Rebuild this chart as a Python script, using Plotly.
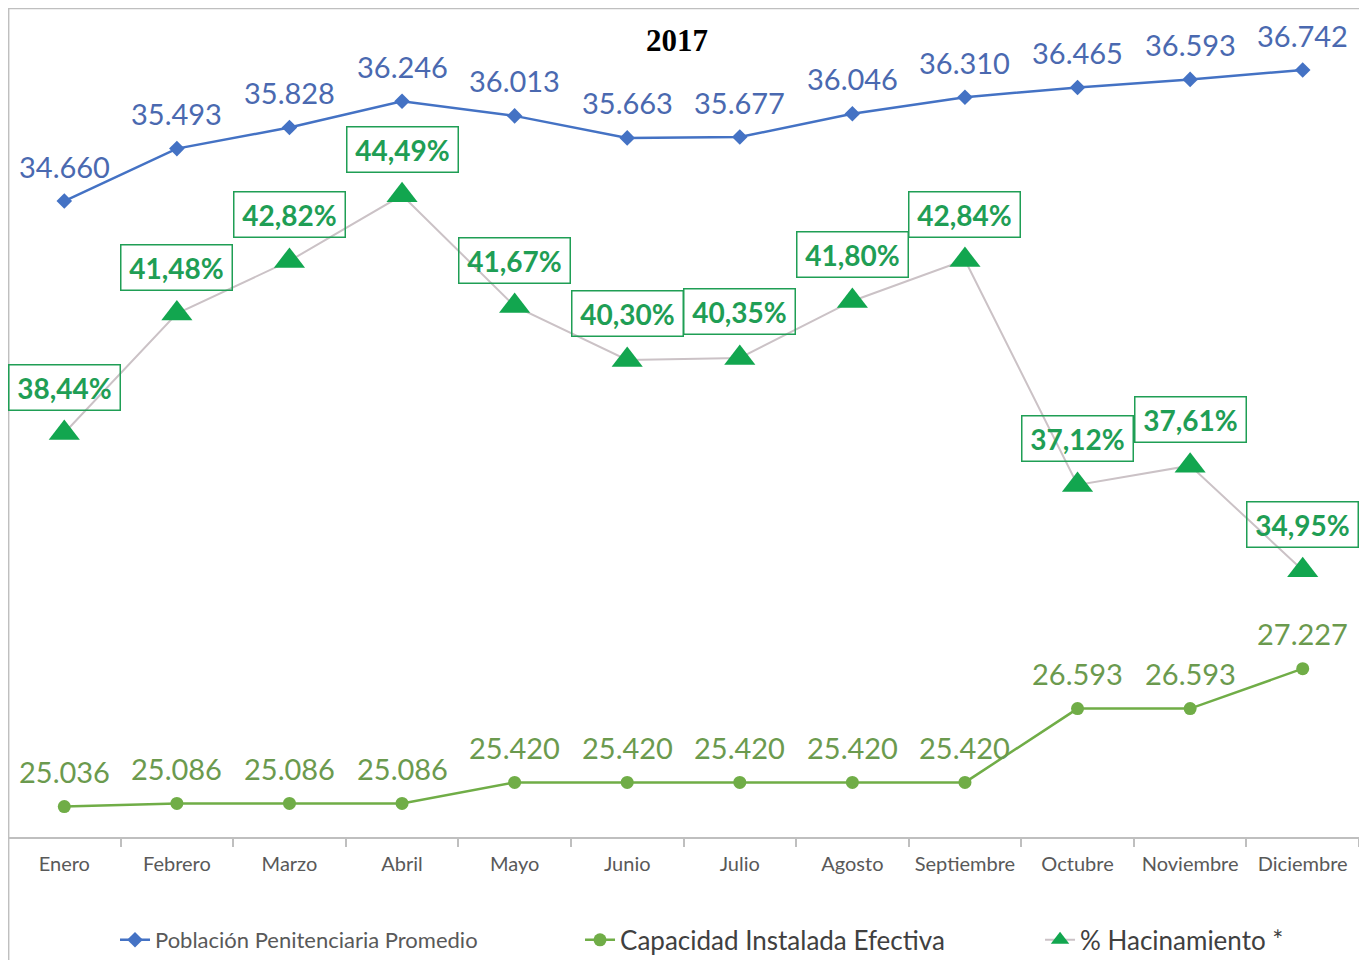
import plotly.graph_objects as go

months = ["Enero", "Febrero", "Marzo", "Abril", "Mayo", "Junio", "Julio",
          "Agosto", "Septiembre", "Octubre", "Noviembre", "Diciembre"]
poblacion = [34660, 35493, 35828, 36246, 36013, 35663, 35677, 36046, 36310, 36465, 36593, 36742]
capacidad = [25036, 25086, 25086, 25086, 25420, 25420, 25420, 25420, 25420, 26593, 26593, 27227]
hacinamiento = [38.44, 41.48, 42.82, 44.49, 41.67, 40.30, 40.35, 41.80, 42.84, 37.12, 37.61, 34.95]

def miles(v):
    return f"{v:,}".replace(",", ".")

def pct(v):
    return f"{v:.2f}".replace(".", ",") + "%"

BLUE = "#4472c4"
BLUE_T = "#4a69b0"
GREEN = "#70ad47"
GREEN_T = "#6b9a4e"
TRI = "#12a64f"
TRI_T = "#1f9e55"
PINK = "#cbc2c6"
FONT = "Lato"

fig = go.Figure()
fig.add_trace(go.Scatter(
    x=months, y=poblacion, mode="lines+markers",
    name="Población Penitenciaria Promedio", legend="legend",
    line=dict(color=BLUE, width=2.5),
    marker=dict(symbol="diamond", size=12, color=BLUE),
))
fig.add_trace(go.Scatter(
    x=months, y=capacidad, mode="lines+markers",
    name="Capacidad Instalada Efectiva", legend="legend2",
    line=dict(color=GREEN, width=2.5),
    marker=dict(symbol="circle", size=13, color=GREEN),
))
fig.add_trace(go.Scatter(
    x=months, y=hacinamiento, mode="lines+markers", yaxis="y2",
    name="% Hacinamiento *", legend="legend3",
    line=dict(color=PINK, width=2),
    marker=dict(symbol="triangle-up", size=27, color=TRI),
))

ann = []
for m, v in zip(months, poblacion):
    ann.append(dict(x=m, y=v, xref="x", yref="y", text=miles(v), showarrow=False,
                    yshift=35, font=dict(family=FONT, size=29, color=BLUE_T)))
for m, v in zip(months, capacidad):
    ann.append(dict(x=m, y=v, xref="x", yref="y", text=miles(v), showarrow=False,
                    yshift=35, font=dict(family=FONT, size=29, color=GREEN_T)))
for m, v in zip(months, hacinamiento):
    ann.append(dict(x=m, y=v, xref="x", yref="y2", text=pct(v), showarrow=False,
                    yshift=46, width=100, align="center",
                    bordercolor=TRI_T, borderwidth=1.5, borderpad=5,
                    font=dict(family=FONT, size=28, color=TRI_T, weight="bold")))
fig.update_layout(annotations=ann)

fig.add_shape(type="rect", xref="paper", yref="paper",
              x0=0.0005, x1=1.0022, y0=-0.2, y1=1.0141,
              line=dict(color="#bfbfbf", width=1.5), layer="below")

leg_common = dict(orientation="h", y=-0.126, yanchor="middle", xanchor="left",
                  bgcolor="rgba(0,0,0,0)")
fig.update_layout(
    width=1359, height=952,
    margin=dict(l=0, r=8, t=12, b=123, autoexpand=False),
    paper_bgcolor="white", plot_bgcolor="white",
    font=dict(family=FONT, color="#404040"),
    title=dict(text="<b>2017</b>", x=0.4923, xanchor="center", y=1 - 32 / 952, yanchor="middle",
               font=dict(family="Liberation Serif", size=31, color="black")),
    xaxis=dict(type="category", range=[-0.5, 11.5], showgrid=False, zeroline=False,
               showline=True, linecolor="#bfbfbf", linewidth=1.5,
               ticks="outside", tickson="boundaries", ticklen=8, tickcolor="#bfbfbf",
               tickwidth=1.5, tickfont=dict(family=FONT, size=20, color="#595959"),
               ticklabelstandoff=8, fixedrange=True),
    yaxis=dict(range=[24552, 37537], visible=False, showgrid=False),
    yaxis2=dict(range=[28.16, 48.95], overlaying="y", side="right", visible=False, showgrid=False),
    showlegend=True,
    legend=dict(x=0.0792, font=dict(family=FONT, size=22, color="#595959"), **leg_common),
    legend2=dict(x=0.4234, font=dict(family=FONT, size=26, color="#404040"), **leg_common),
    legend3=dict(x=0.7639, font=dict(family=FONT, size=26, color="#404040"), **leg_common),
)

fig.write_html("out.html")
